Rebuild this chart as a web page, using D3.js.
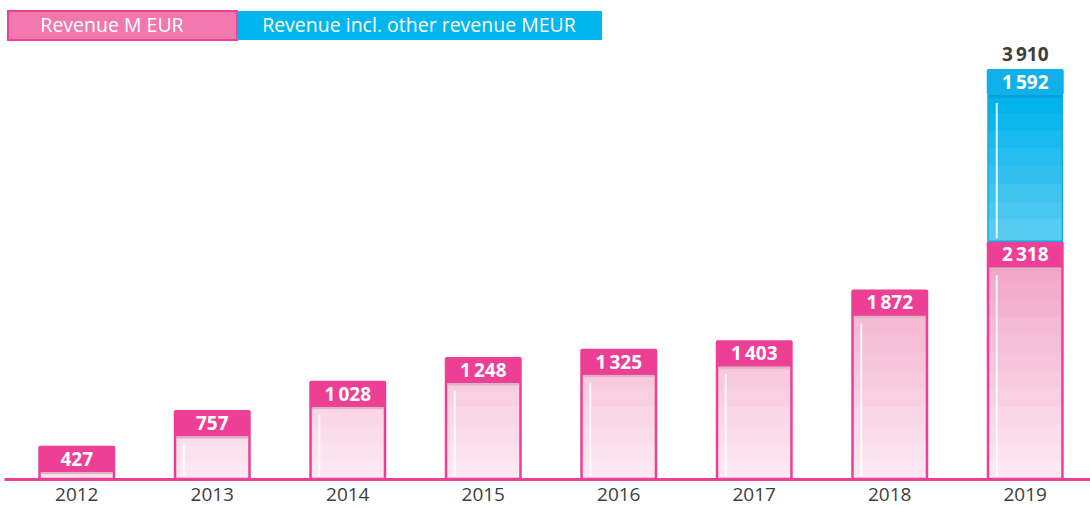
<!DOCTYPE html>
<html>
<head>
<meta charset="utf-8">
<script src="https://cdn.jsdelivr.net/npm/d3@7"></script>
<style>
  body { margin: 0; background: #fff; }
  svg { display: block; font-family: "Open Sans", "Noto Sans", sans-serif; }
</style>
</head>
<body>
<div class="canvas"></div>
<script>
// data
const years = ['2012', '2013', '2014', '2015', '2016', '2017', '2018', '2019'];
const revenue = [427, 757, 1028, 1248, 1325, 1403, 1872, 2318];
const otherRevenue = [0, 0, 0, 0, 0, 0, 0, 1592];
const legendLabels = ['Revenue M EUR', 'Revenue incl. other revenue MEUR'];

const width = 1090;
const height = 508;
const baseY = 479;
const boxH = 26;

const pink = '#ed3f95';
const blue = '#0fb1e8';

const fmt = d3.formatLocale({ decimal: '.', thousands: '\u2009', grouping: [3], currency: ['', ''] }).format(',');

const svg = d3.select('.canvas')
    .append('svg')
    .attr('width', width)
    .attr('height', height);

const defs = svg.append('defs');

// stepped gradients, absolute in page space
const stepped = (id, y1, y2, c1, c2, n) => {
    const g = defs.append('linearGradient')
        .attr('id', id)
        .attr('gradientUnits', 'userSpaceOnUse')
        .attr('x1', 0).attr('x2', 0)
        .attr('y1', y1).attr('y2', y2);
    const interp = d3.interpolateRgb(c1, c2);
    for (let i = 0; i < n; i++) {
        const c = interp(i / (n - 1));
        g.append('stop').attr('offset', i / n).attr('stop-color', c);
        g.append('stop').attr('offset', (i + 1) / n).attr('stop-color', c);
    }
};
stepped('pinkGrad', baseY, 263, '#fde8f1', '#f1a7c8', 12);
stepped('blueGrad', 237, 95, '#58cbf2', '#00b3ec', 8);

// scales
const x = d3.scaleBand()
    .domain(years)
    .range([4, 1098])
    .paddingInner(0.432)
    .paddingOuter(0.253);

const y = d3.scaleLinear()
    .domain([120, 3910])
    .range([baseY, 69]);

// legend
const legend = svg.append('g');
legend.append('rect')
    .attr('x', 8).attr('y', 11).attr('width', 229).attr('height', 29)
    .attr('fill', '#f277ac').attr('stroke', pink).attr('stroke-width', 2);
legend.append('rect')
    .attr('x', 237).attr('y', 11).attr('width', 365).attr('height', 29)
    .attr('fill', '#00b6ef');
legend.append('text')
    .attr('x', 112).attr('y', 32)
    .attr('text-anchor', 'middle').attr('fill', '#fff').attr('font-size', 19.5)
    .text(legendLabels[0]);
legend.append('text')
    .attr('x', 419).attr('y', 32)
    .attr('text-anchor', 'middle').attr('fill', '#fff').attr('font-size', 19.5)
    .text(legendLabels[1]);

// segments
const segments = [];
years.forEach((yr, i) => {
    segments.push({ year: yr, v0: 0, v1: revenue[i], value: revenue[i], type: 'pink' });
    if (otherRevenue[i] > 0) {
        segments.push({ year: yr, v0: revenue[i], v1: revenue[i] + otherRevenue[i], value: otherRevenue[i], type: 'blue' });
    }
});

const bars = svg.append('g');
const bw = x.bandwidth();

segments.forEach(d => {
    const g = bars.append('g');
    const x0 = x(d.year);
    const top = y(d.v1);
    const bottom = d.v0 === 0 ? baseY : y(d.v0);
    const isBlue = d.type === 'blue';
    const main = isBlue ? blue : pink;

    // body
    g.append('rect')
        .attr('x', x0 + 1.25)
        .attr('y', top + boxH)
        .attr('width', bw - 2.5)
        .attr('height', Math.max(0, bottom - top - boxH))
        .attr('fill', isBlue ? 'url(#blueGrad)' : 'url(#pinkGrad)')
        .attr('stroke', isBlue ? '#1aa6dd' : pink)
        .attr('stroke-width', isBlue ? 1.5 : 2.5);

    // shadow under label box
    g.append('rect')
        .attr('x', x0 + 2.5)
        .attr('y', top + boxH)
        .attr('width', bw - 5)
        .attr('height', 2.5)
        .attr('fill', isBlue ? '#0b9fd6' : '#dfb4c6');

    // highlight
    const hTop = top + boxH + 8;
    const hBot = bottom - 3;
    if (hBot - hTop > 6) {
        g.append('line')
            .attr('x1', x0 + 10).attr('x2', x0 + 10)
            .attr('y1', hTop).attr('y2', hBot)
            .attr('stroke', '#fff')
            .attr('stroke-opacity', 0.85)
            .attr('stroke-width', 2);
    }

    // label box
    g.append('rect')
        .attr('x', x0)
        .attr('y', top)
        .attr('width', bw)
        .attr('height', boxH)
        .attr('rx', 2)
        .attr('fill', main);

    g.append('text')
        .attr('x', x0 + bw / 2)
        .attr('y', top + boxH / 2 + 7)
        .attr('text-anchor', 'middle')
        .attr('fill', '#fff')
        .attr('font-size', 19)
        .attr('font-weight', 700)
        .text(fmt(d.value));
});

// total label for stacked year
years.forEach((yr, i) => {
    if (otherRevenue[i] > 0) {
        const total = revenue[i] + otherRevenue[i];
        svg.append('text')
            .attr('x', x(yr) + bw / 2)
            .attr('y', y(total) - 8)
            .attr('text-anchor', 'middle')
            .attr('fill', '#3d3d3d')
            .attr('font-size', 19)
            .attr('font-weight', 700)
            .text(fmt(total));
    }
});

// x axis
const xAxisGroup = svg.append('g')
    .attr('transform', `translate(0, ${baseY})`)
    .call(d3.axisBottom(x).tickSize(0).tickPadding(9));

xAxisGroup.select('.domain')
    .attr('stroke', pink)
    .attr('stroke-width', 3);

xAxisGroup.selectAll('text')
    .attr('font-family', '"Open Sans", "Noto Sans", sans-serif')
    .attr('font-size', 19)
    .attr('fill', '#3d3d3d');
</script>
</body>
</html>
